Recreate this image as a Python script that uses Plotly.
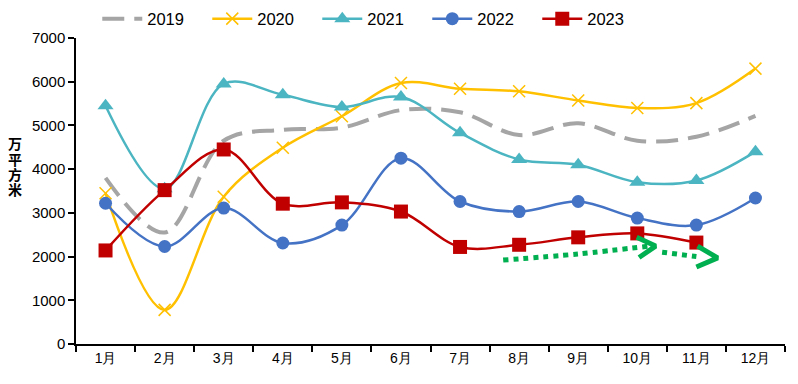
import plotly.graph_objects as go

months = ["1月", "2月", "3月", "4月", "5月", "6月", "7月", "8月", "9月", "10月", "11月", "12月"]
x_idx = list(range(12))

y2019 = [3800, 2550, 4650, 4900, 4950, 5350, 5300, 4780, 5050, 4650, 4740, 5220]
y2020 = [3450, 780, 3370, 4490, 5210, 5970, 5840, 5780, 5570, 5400, 5510, 6300]
y2021 = [5450, 3550, 5950, 5700, 5420, 5650, 4830, 4220, 4100, 3700, 3740, 4400]
y2022 = [3220, 2230, 3110, 2310, 2720, 4250, 3260, 3030, 3260, 2880, 2720, 3340]
y2023 = [2140, 3520, 4450, 3210, 3240, 3030, 2220, 2270, 2440, 2530, 2320]

y_title_chars = ["万", "平", "方", "米"]

# green trend arrows (x as month index, y as value)
arrow1_x = [6.73, 8.0, 9.2]
arrow1_y = [1920, 2060, 2240]
head1_x = [8.99, 9.31, 9.03]
head1_y = [2440, 2240, 1980]
arrow2_x = [9.42, 10.0]
arrow2_y = [2100, 2000]
head2_x = [10.02, 10.36, 10.0]
head2_y = [2240, 1970, 1760]

font_family = "Liberation Sans, Arial, sans-serif"

fig = go.Figure()

fig.add_trace(go.Scatter(x=x_idx, y=y2019, name="2019", mode="lines",
                         line=dict(color="#A5A5A5", width=4, dash="22px,10px", shape="spline", smoothing=1)))
fig.add_trace(go.Scatter(x=x_idx, y=y2020, name="2020", mode="lines+markers",
                         line=dict(color="#FFC000", width=2.5, shape="spline", smoothing=1),
                         marker=dict(symbol="x-thin", size=12, line=dict(color="#FFC000", width=1.5))))
fig.add_trace(go.Scatter(x=x_idx, y=y2021, name="2021", mode="lines+markers",
                         line=dict(color="#4BB5C1", width=2.5, shape="spline", smoothing=1),
                         marker=dict(symbol="triangle-up", size=14, color="#4BB5C1")))
fig.add_trace(go.Scatter(x=x_idx, y=y2022, name="2022", mode="lines+markers",
                         line=dict(color="#4472C4", width=2.5, shape="spline", smoothing=1),
                         marker=dict(symbol="circle", size=13, color="#4472C4")))
fig.add_trace(go.Scatter(x=x_idx[:len(y2023)], y=y2023, name="2023", mode="lines+markers",
                         line=dict(color="#C00000", width=2.5, shape="spline", smoothing=1),
                         marker=dict(symbol="square", size=14, color="#C00000")))

green = "#00B050"
fig.add_trace(go.Scatter(x=arrow1_x, y=arrow1_y, mode="lines", showlegend=False, hoverinfo="skip",
                         line=dict(color=green, width=5, dash="5px,5px", shape="spline")))
fig.add_trace(go.Scatter(x=head1_x, y=head1_y, mode="lines", showlegend=False, hoverinfo="skip",
                         line=dict(color=green, width=5)))
fig.add_trace(go.Scatter(x=arrow2_x, y=arrow2_y, mode="lines", showlegend=False, hoverinfo="skip",
                         line=dict(color=green, width=5, dash="5px,5px")))
fig.add_trace(go.Scatter(x=head2_x, y=head2_y, mode="lines", showlegend=False, hoverinfo="skip",
                         line=dict(color=green, width=5)))

title_y = [0.657, 0.606, 0.556, 0.505]
annotations = [dict(text="<b>%s</b>" % ch, x=-0.086, y=yy, xref="paper", yref="paper",
                    showarrow=False, font=dict(size=14, family="Noto Sans CJK SC"),
                    xanchor="center", yanchor="middle", borderpad=0)
               for ch, yy in zip(y_title_chars, title_y)]

fig.update_layout(
    width=790, height=376,
    margin=dict(l=68, r=13, t=30, b=40, autoexpand=False),
    paper_bgcolor="white", plot_bgcolor="white",
    font=dict(family=font_family, size=14, color="black"),
    showlegend=True,
    legend=dict(orientation="h", x=0.113, xref="container", y=0.971, yref="container",
                yanchor="middle", xanchor="left", entrywidth=55, entrywidthmode="pixels",
                font=dict(size=16.5), itemwidth=40, bgcolor="rgba(0,0,0,0)"),
    xaxis=dict(range=[-0.5, 11.5], tickvals=x_idx, ticktext=months, ticks="",
               showline=True, linecolor="black", linewidth=1.5, showgrid=False, zeroline=False,
               tickfont=dict(size=14),
               minor=dict(tickvals=[i - 0.5 for i in range(13)], ticks="outside", ticklen=6,
                          tickcolor="black", tickwidth=1.5, showgrid=False)),
    yaxis=dict(range=[0, 7000], tickvals=[0, 1000, 2000, 3000, 4000, 5000, 6000, 7000],
               ticks="outside", ticklen=6, tickcolor="black", tickwidth=1.5,
               showline=True, linecolor="black", linewidth=1.5, showgrid=False, zeroline=False,
               tickfont=dict(size=15)),
    annotations=annotations,
)

fig.write_html("out.html")
